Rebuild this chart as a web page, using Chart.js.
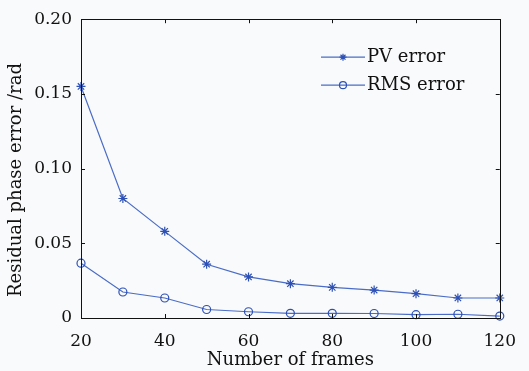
<!DOCTYPE html>
<html>
<head>
<meta charset="utf-8">
<script src="https://cdn.jsdelivr.net/npm/chart.js@4"></script>
<style>
  html, body { margin: 0; padding: 0; background: #f9fafc; }
  #wrap { width: 529px; height: 371px; }
</style>
</head>
<body>
<div id="wrap"><canvas id="errChart"></canvas></div>
<script>
const frames = [20, 30, 40, 50, 60, 70, 80, 90, 100, 110, 120];
const pvError = [0.155, 0.080, 0.058, 0.036, 0.0275, 0.023, 0.0205, 0.0187, 0.0163, 0.0134, 0.0134];
const rmsError = [0.0367, 0.0174, 0.0134, 0.0057, 0.0042, 0.0031, 0.0031, 0.003, 0.0022, 0.0025, 0.0013];
const xTicks = [20, 40, 60, 80, 100, 120];
const yTicks = [0, 0.05, 0.10, 0.15, 0.20];

const lineColor = '#4a6cc6';
const markColor = '#2d50b4';
const fontFamily = '"DejaVu Serif", serif';

// frame, inward ticks and the legend box (MATLAB style)
const framePlugin = {
  id: 'frame',
  beforeDraw(chart) {
    const ctx = chart.ctx;
    ctx.save();
    ctx.fillStyle = '#f9fafc';
    ctx.fillRect(0, 0, chart.width, chart.height);
    ctx.restore();
  },
  afterDatasetsDraw(chart) {
    const { ctx, chartArea: a, scales } = chart;
    ctx.save();
    ctx.strokeStyle = '#111';
    ctx.lineWidth = 1;
    ctx.strokeRect(Math.round(a.left) + 0.5, Math.round(a.top) + 0.5,
      Math.round(a.right - a.left), Math.round(a.bottom - a.top));
    const len = 4;
    ctx.beginPath();
    xTicks.forEach(v => {
      const x = Math.round(scales.x.getPixelForValue(v)) + 0.5;
      ctx.moveTo(x, a.bottom); ctx.lineTo(x, a.bottom - len);
      ctx.moveTo(x, a.top); ctx.lineTo(x, a.top + len);
    });
    yTicks.forEach(v => {
      const y = Math.round(scales.y.getPixelForValue(v)) + 0.5;
      ctx.moveTo(a.left, y); ctx.lineTo(a.left + len, y);
      ctx.moveTo(a.right, y); ctx.lineTo(a.right - len, y);
    });
    ctx.stroke();

    // legend
    const lx = a.left + 240, ly = a.top + 38, gap = 28;
    chart.data.datasets.forEach((ds, i) => {
      const y = ly + i * gap;
      ctx.strokeStyle = ds.borderColor;
      ctx.lineWidth = 1.2;
      ctx.beginPath();
      ctx.moveTo(lx, y); ctx.lineTo(lx + 44, y);
      ctx.stroke();
      ctx.strokeStyle = ds.pointBorderColor;
      ctx.fillStyle = ds.pointBackgroundColor;
      Chart.helpers.drawPoint(ctx, {
        pointStyle: ds.pointStyle, radius: 3.5, borderWidth: 1.2, rotation: 0
      }, lx + 22, y);
      ctx.fillStyle = '#111';
      ctx.font = '18px ' + fontFamily;
      ctx.textBaseline = 'middle';
      ctx.fillText(ds.label, lx + 46, y);
    });
    ctx.restore();
  }
};

const ctx = document.getElementById('errChart').getContext('2d');
new Chart(ctx, {
  type: 'line',
  data: {
    datasets: [
      {
        label: 'PV error',
        data: frames.map((f, i) => ({ x: f, y: pvError[i] })),
        borderColor: lineColor,
        borderWidth: 1.2,
        pointStyle: 'star',
        pointRadius: 4.5,
        pointBorderColor: markColor,
        pointBackgroundColor: markColor,
        pointBorderWidth: 1.2,
        tension: 0,
        clip: false
      },
      {
        label: 'RMS error',
        data: frames.map((f, i) => ({ x: f, y: rmsError[i] })),
        borderColor: lineColor,
        borderWidth: 1.2,
        pointStyle: 'circle',
        pointRadius: 4,
        pointBorderColor: markColor,
        pointBackgroundColor: 'rgba(0,0,0,0)',
        pointBorderWidth: 1.2,
        tension: 0,
        clip: false
      }
    ]
  },
  options: {
    responsive: true,
    maintainAspectRatio: false,
    animation: false,
    events: [],
    layout: {
      padding: { top: 15, right: 17, left: 0, bottom: 0 }
    },
    plugins: {
      legend: { display: false },
      tooltip: { enabled: false }
    },
    scales: {
      x: {
        type: 'linear',
        min: 20,
        max: 120,
        afterFit: scale => { scale.height = 53; },
        afterBuildTicks: scale => { scale.ticks = xTicks.map(v => ({ value: v })); },
        grid: { display: false, drawTicks: false },
        border: { display: false },
        ticks: {
          color: '#111',
          padding: 13,
          font: { family: fontFamily, size: 17 }
        },
        title: {
          display: true,
          text: 'Number of frames',
          color: '#111',
          padding: { top: 0, bottom: 0 },
          font: { family: fontFamily, size: 18 }
        }
      },
      y: {
        type: 'linear',
        min: 0,
        max: 0.2,
        afterFit: scale => { scale.width = 81; },
        afterBuildTicks: scale => { scale.ticks = yTicks.map(v => ({ value: v })); },
        grid: { display: false, drawTicks: false },
        border: { display: false },
        ticks: {
          color: '#111',
          padding: 9,
          font: { family: fontFamily, size: 17 },
          callback: v => v === 0 ? '0' : v.toFixed(2)
        },
        title: {
          display: true,
          text: 'Residual phase error /rad    ',
          color: '#111',
          padding: { top: 6, bottom: 0 },
          font: { family: fontFamily, size: 18 }
        }
      }
    }
  },
  plugins: [framePlugin]
});
</script>
</body>
</html>
